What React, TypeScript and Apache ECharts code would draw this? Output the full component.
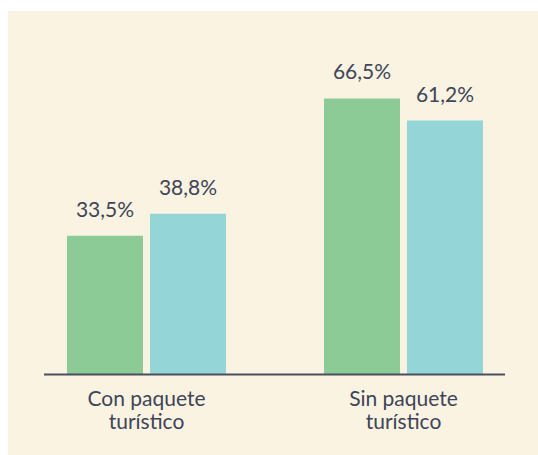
import React, { useEffect, useRef } from "react";
import * as echarts from "echarts";

const categories = ["Con paquete\nturístico", "Sin paquete\nturístico"];
const seriesA = [33.5, 66.5];
const seriesB = [38.8, 61.2];
const seriesNames = ["A", "B"];

const TEXT = "#404458";
const fmt = (v: number) => v.toFixed(1).replace(".", ",") + "%";

export default function App() {
  const ref = useRef<HTMLDivElement>(null);
  useEffect(() => {
    if (!ref.current) return;
    const chart = echarts.init(ref.current, null, { renderer: "svg" });
    const label = {
      show: true,
      position: "top" as const,
      distance: 17,
      color: TEXT,
      fontFamily: "Lato",
      fontSize: 21,
      formatter: (p: any) => fmt(p.value),
    };
    chart.setOption({
      animation: false,
      backgroundColor: "#FAF3E1",
      grid: { left: 10, right: 6, top: 1, bottom: 80 },
      xAxis: {
        type: "category",
        data: categories,
        axisLine: { show: false },
        axisTick: { show: false },
        axisLabel: {
          color: TEXT,
          fontFamily: "Lato",
          fontSize: 21,
          lineHeight: 23,
          margin: 11,
        },
      },
      yAxis: { type: "value", min: 0, max: 87.3, show: false },
      graphic: [
        {
          type: "line",
          shape: { x1: 36, y1: 363.5, x2: 497, y2: 363.5 },
          style: { stroke: "#4a4e5e", lineWidth: 2 },
          z: 10,
        },
      ],
      series: [
        {
          name: seriesNames[0],
          type: "bar",
          data: seriesA,
          barWidth: 76,
          barGap: "9.2%",
          itemStyle: { color: "#8DCB96" },
          label,
        },
        {
          name: seriesNames[1],
          type: "bar",
          data: seriesB,
          barWidth: 76,
          itemStyle: { color: "#94D5D7" },
          label,
        },
      ],
    });
    return () => chart.dispose();
  }, []);
  return (
    <div
      ref={ref}
      style={{ position: "absolute", left: 8, top: 11, width: 530, height: 444 }}
    />
  );
}
